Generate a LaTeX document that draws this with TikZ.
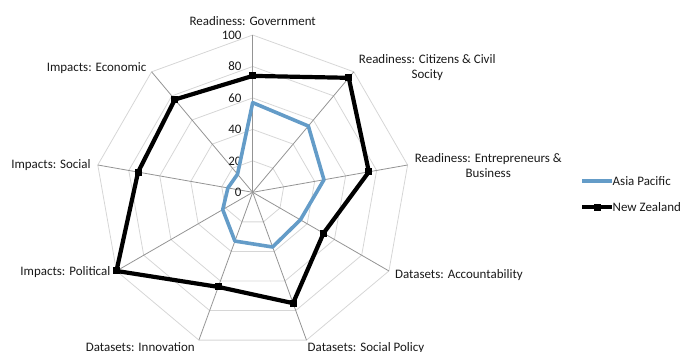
\documentclass[tikz,border=0pt]{standalone}
\usepackage{fontspec}
\setmainfont{Carlito}
\definecolor{apblue}{RGB}{100,156,200}
\definecolor{txtgray}{RGB}{25,25,25}

\begin{document}
\begin{tikzpicture}[x=1bp, y=1bp,
        gridring/.style={draw=black!16, line width=0.8bp},
        gridaxis/.style={draw=black!42, line width=0.8bp},
        axislabel/.style={font=\fontsize{13}{15.5}\selectfont, text=txtgray, inner sep=1bp, align=center},
        ticklabel/.style={font=\fontsize{13}{15.5}\selectfont, text=txtgray, inner sep=1bp, anchor=east},
        apline/.style={draw=apblue, line width=3.6bp, line join=round},
        nzline/.style={draw=black, line width=4.2bp, line join=miter},
        nzmark/.style={fill=black, minimum size=7bp, inner sep=0pt}]
    \useasboundingbox (-252.7,-158.7) rectangle (429.3,192.3);

    % rings every 20
    \foreach \r in {1,...,5} {
        \draw [gridring] (90:31.46*\r) \foreach \k in {1,...,8} { -- (90-40*\k:31.46*\r) } -- cycle;
    }
    % spokes
    \foreach \k in {0,...,8} {
        \draw [gridaxis] (0,0) -- (90-40*\k:157.3) coordinate (ax\k);
    }
    \foreach \v in {0,20,...,100} {
        \node [ticklabel] (tick\v) at (-10,1.573*\v) {\v};
    }

    \node [axislabel, anchor=south] (lgov) at ([yshift=8]ax0) {Readiness: Government};
    \node [axislabel, anchor=west] (lciv) at ([xshift=4,yshift=4]ax1) {Readiness: Citizens \& Civil\\Socity};
    \node [axislabel, anchor=west] (lent) at ([xshift=6,yshift=-0.5]ax2) {Readiness: Entrepreneurs \&\\Business};
    \node [axislabel, anchor=west] (lacc) at ([xshift=5,yshift=-4]ax3) {Datasets: Accountability};
    \node [axislabel, anchor=north west] (lsoc) at ([xshift=0,yshift=-1]ax4) {Datasets: Social Policy};
    \node [axislabel, anchor=north east] (linn) at ([xshift=-3,yshift=-1]ax5) {Datasets: Innovation};
    \node [axislabel, anchor=east] (lpol) at ([xshift=-5,yshift=-1]ax6) {Impacts: Political};
    \node [axislabel, anchor=east] (lsci) at ([xshift=-6,yshift=0]ax7) {Impacts: Social};
    \node [axislabel, anchor=east] (leco) at ([xshift=-4,yshift=4]ax8) {Impacts: Economic};

    % Asia Pacific
    \foreach \v [count=\k from 0] in {57,55,46,35,37,33,22,16,15} {
        \coordinate (ap\k) at (90-40*\k:1.573*\v);
    }
    \draw [apline] (ap0) \foreach \k in {1,...,8} { -- (ap\k) } -- cycle;

    % New Zealand
    \foreach \v [count=\k from 0] in {74,95,75,52,75,64,100,74,77} {
        \coordinate (nz\k) at (90-40*\k:1.573*\v);
    }
    \draw [nzline] (nz0) \foreach \k in {1,...,8} { -- (nz\k) } -- cycle;
    \foreach \k in {0,...,8} {
        \node [nzmark] (nzm\k) at (nz\k) {};
    }

    % legend
    \coordinate (legapa) at (329.3,11.3);
    \node [axislabel, anchor=west, inner sep=0.5bp] (legaptxt) at (359.3,11.3) {Asia Pacific};
    \draw [apline] (legapa) -- (legaptxt.west);
    \coordinate (legnza) at (329.3,-14.7);
    \node [axislabel, anchor=west, inner sep=0.5bp] (legnztxt) at (359.3,-14.7) {New Zealand};
    \draw [nzline] (legnza) -- (legnztxt.west);
    \node [nzmark] (legnzm) at (344.3,-14.7) {};
\end{tikzpicture}
\end{document}
